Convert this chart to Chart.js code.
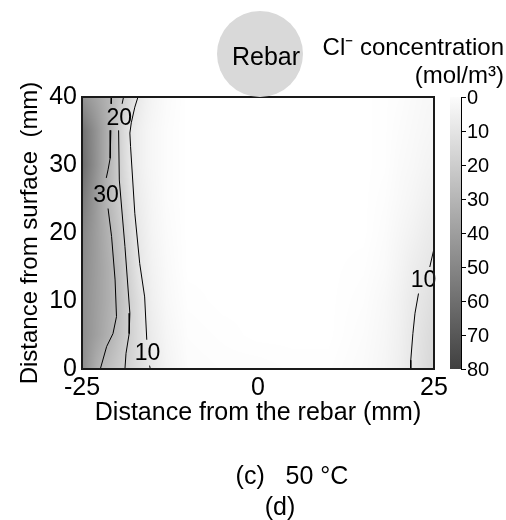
<!DOCTYPE html>
<html>
<head>
<meta charset="utf-8">
<script src="https://cdn.jsdelivr.net/npm/chart.js@4.4.1/dist/chart.umd.min.js"></script>
<style>
  html, body { margin: 0; padding: 0; background: #fff; }
  #wrap { width: 506px; height: 520px; }
</style>
</head>
<body>
<div id="wrap"><canvas id="map" width="506" height="520"></canvas></div>
<script>
// grid of Cl- concentration (mol/m3)
const gridX = [-25, -23, -22, -21, -20, -19, -18, -17, -16, -15, -13, -10, -5, 0, 5, 10, 15, 18, 20, 22, 24, 25];
const gridY = [0, 5, 10, 15, 20, 25, 30, 35, 40];

const concY0  = [48, 34, 29, 26, 23, 20.3, 17.5, 14.7, 11.9, 9.2, 5, 1.5, 1, 1, 0.5, 0.5, 2, 4, 6.5, 10.3, 15, 17];
const concY5  = [48, 40, 36, 32, 27.4, 23, 18.8, 14.8, 10.8, 8, 4, 1, 0.5, 0, 0, 0, 1.5, 3.5, 6, 10, 14, 16];
const concY10 = [48, 40.5, 36.8, 33, 28.9, 23.7, 18.6, 14.1, 9.6, 6.5, 3, 0.5, 0, 0, 0, 0, 1, 3, 5.5, 9, 12.2, 14];
const concY15 = [49, 40.9, 36.9, 32.8, 28.2, 22.4, 16.7, 11.1, 8, 5.5, 2.5, 0, 0, 0, 0, 0, 0.5, 2, 4.5, 7.5, 9.8, 11];
const concY20 = [51, 41, 36, 31, 25.8, 20.5, 14.4, 9.5, 7, 4.5, 2, 0, 0, 0, 0, 0, 0, 1.5, 3.5, 5.5, 8, 9];
const concY25 = [56, 42, 34.9, 28.4, 23.2, 17.6, 11.8, 8, 6, 4, 1.5, 0, 0, 0, 0, 0, 0, 1, 2.5, 4, 6, 7];
const concY30 = [62, 46, 38, 30, 22.3, 15.6, 9.5, 7, 5, 3.5, 1.5, 0, 0, 0, 0, 0, 0, 0.5, 2, 3, 4.5, 5];
const concY35 = [60, 45.4, 38, 30.7, 21.8, 15, 9.5, 7, 5, 3.5, 1.5, 0, 0, 0, 0, 0, 0, 0.5, 1.5, 2.5, 3.5, 4];
const concY40 = [45, 37.9, 34.3, 30.7, 25.3, 19.5, 14.2, 9.3, 6.5, 4.5, 2, 0, 0, 0, 0, 0, 0, 0.5, 1, 2, 3, 3];
const concRows = [concY0, concY5, concY10, concY15, concY20, concY25, concY30, concY35, concY40];

// contour lines (null = gap where the label sits)
const c30X = [-20.8, -20.85, null, -20.9, -21.0, -21.3, -21.55, null, -21.3, -20.8, -20.3, -20.1, -20.6, -21.5, -22.4];
const c30Y = [40, 39, null, 35.1, 31, 29.3, 28.1, null, 23.6, 19.5, 13.1, 7.7, 5.2, 3.3, 0];
const c20X = [-19.1, -19.3, null, -19.8, -19.7, -18.9, -18.2, -18.3, -18.75, -18.9];
const c20Y = [40, 39, null, 35.1, 27.8, 18, 8.2, 5.2, 2.3, 0];
const c10LX = [-17.05, -17.5, -18.0, -18.2, -18.1, -17.5, -16.8, -16.1, -15.8, null, -15.4, -15.3];
const c10LY = [40, 38.5, 36.2, 34.7, 32.7, 22.9, 15.5, 10.6, 4.3, null, 0.5, 0];
const c10RX = [25, 24.4, null, 22.8, 22.3, 22.0, 21.7, 21.7];
const c10RY = [17.7, 15, null, 11.1, 8.2, 5.2, 1.3, 0];

const labelText = ['20', '30', '10', '10'];
const labelX = [-19.7, -21.6, -15.7, 23.5];
const labelY = [37.0, 25.7, 2.4, 13.1];

const xTicks = [-25, 0, 25];
const yTicks = [0, 10, 20, 30, 40];
const cbTicks = [0, 10, 20, 30, 40, 50, 60, 70, 80];
const cbMax = 80;

const FONT = "'Liberation Sans', Arial, sans-serif";

function pts(xs, ys) {
  return xs.map((x, i) => x === null ? { x: NaN, y: null } : { x: x, y: ys[i] });
}

function grayOf(v) {
  const t = Math.max(0, Math.min(cbMax, v)) / cbMax;
  return Math.round(255 - t * 191);
}

function findIdx(arr, v) {
  for (let i = 0; i < arr.length - 2; i++) {
    if (v < arr[i + 1]) return i;
  }
  return arr.length - 2;
}

function sample(x, y) {
  const i = findIdx(gridX, x), j = findIdx(gridY, y);
  const tx = Math.max(0, Math.min(1, (x - gridX[i]) / (gridX[i + 1] - gridX[i])));
  const ty = Math.max(0, Math.min(1, (y - gridY[j]) / (gridY[j + 1] - gridY[j])));
  const a = concRows[j][i], b = concRows[j][i + 1];
  const c = concRows[j + 1][i], d = concRows[j + 1][i + 1];
  return (a * (1 - tx) + b * tx) * (1 - ty) + (c * (1 - tx) + d * tx) * ty;
}

const heatPlugin = {
  id: 'heat',
  beforeDatasetsDraw(chart) {
    const { ctx, chartArea: a, scales } = chart;
    const w = Math.round(a.right - a.left), h = Math.round(a.bottom - a.top);
    const off = document.createElement('canvas');
    off.width = w; off.height = h;
    const octx = off.getContext('2d');
    const img = octx.createImageData(w, h);
    for (let py = 0; py < h; py++) {
      const yv = scales.y.getValueForPixel(a.top + py + 0.5);
      for (let px = 0; px < w; px++) {
        const xv = scales.x.getValueForPixel(a.left + px + 0.5);
        const g = grayOf(sample(xv, yv));
        const k = (py * w + px) * 4;
        img.data[k] = g; img.data[k + 1] = g; img.data[k + 2] = g; img.data[k + 3] = 255;
      }
    }
    octx.putImageData(img, 0, 0);
    ctx.drawImage(off, a.left, a.top);
  },
  afterDatasetsDraw(chart) {
    const { ctx, chartArea: a, scales } = chart;
    // contour labels
    ctx.save();
    ctx.fillStyle = '#000';
    ctx.font = '23px ' + FONT;
    ctx.textAlign = 'center';
    ctx.textBaseline = 'middle';
    labelText.forEach((t, i) => {
      ctx.fillText(t, scales.x.getPixelForValue(labelX[i]), scales.y.getPixelForValue(labelY[i]) + 1);
    });
    // frame
    ctx.strokeStyle = '#1a1a1a';
    ctx.lineWidth = 2;
    ctx.strokeRect(a.left, a.top, a.right - a.left, a.bottom - a.top);
    ctx.restore();
  },
  afterDraw(chart) {
    const { ctx, scales } = chart;
    const cb = scales.cb;
    ctx.save();
    // colour bar
    const x0 = 450, x1 = 461;
    const top = cb.getPixelForValue(0), bot = cb.getPixelForValue(cbMax);
    const grad = ctx.createLinearGradient(0, top, 0, bot);
    grad.addColorStop(0, 'rgb(252,252,252)');
    grad.addColorStop(1, 'rgb(64,64,64)');
    ctx.fillStyle = grad;
    ctx.fillRect(x0, top, x1 - x0, bot - top);
    ctx.strokeStyle = '#000';
    ctx.lineWidth = 1;
    ctx.beginPath();
    ctx.moveTo(x1 + 0.5, top); ctx.lineTo(x1 + 0.5, bot);
    cbTicks.forEach(v => {
      const y = Math.round(cb.getPixelForValue(v)) + 0.5;
      ctx.moveTo(x1, y); ctx.lineTo(x1 + 5, y);
    });
    ctx.stroke();
    ctx.fillStyle = '#000';
    ctx.font = '20px ' + FONT;
    ctx.textAlign = 'left';
    ctx.textBaseline = 'middle';
    cbTicks.forEach(v => ctx.fillText(String(v), x1 + 6, cb.getPixelForValue(v) + 1));

    // rebar circle
    ctx.fillStyle = '#d9d9d9';
    ctx.beginPath();
    ctx.arc(260, 54, 43, 0, Math.PI * 2);
    ctx.fill();
    ctx.fillStyle = '#000';
    ctx.font = '25px ' + FONT;
    ctx.textAlign = 'center';
    ctx.fillText('Rebar', 266, 58);

    // colour bar title
    ctx.font = '24px ' + FONT;
    ctx.textAlign = 'right';
    ctx.fillText('Cl\u207B concentration', 504, 48);
    ctx.fillText('(mol/m\u00B3)', 504, 76);

    // panel captions
    ctx.font = '25px ' + FONT;
    ctx.textAlign = 'center';
    ctx.fillText('(c)   50 \u00B0C', 292, 477);
    ctx.fillText('(d)', 280, 508);
    ctx.restore();
  }
};

const lineStyle = { borderColor: '#000', borderWidth: 1, pointRadius: 0, tension: 0, spanGaps: false, fill: false };

new Chart(document.getElementById('map'), {
  type: 'line',
  data: {
    datasets: [
      Object.assign({ label: '30', data: pts(c30X, c30Y) }, lineStyle),
      Object.assign({ label: '20', data: pts(c20X, c20Y) }, lineStyle),
      Object.assign({ label: '10', data: pts(c10LX, c10LY) }, lineStyle),
      Object.assign({ label: '10r', data: pts(c10RX, c10RY) }, lineStyle)
    ]
  },
  options: {
    responsive: false,
    animation: false,
    events: [],
    layout: { padding: { left: 0, right: 72, top: 97, bottom: 91 } },
    plugins: { legend: { display: false }, tooltip: { enabled: false } },
    scales: {
      x: {
        type: 'linear', min: -25, max: 25,
        afterBuildTicks: s => { s.ticks = xTicks.map(v => ({ value: v })); },
        afterFit: s => { s.height = 60; },
        grid: { display: false, drawTicks: false },
        border: { display: false },
        ticks: { color: '#000', padding: 4, maxRotation: 0, font: { family: FONT, size: 25 } },
        title: { display: true, text: 'Distance from the rebar (mm)', color: '#000',
                 padding: { top: 0, bottom: 1 }, font: { family: FONT, size: 25 } }
      },
      y: {
        type: 'linear', min: 0, max: 40,
        afterBuildTicks: s => { s.ticks = yTicks.map(v => ({ value: v })); },
        afterFit: s => { s.width = 82; },
        grid: { display: false, drawTicks: false },
        border: { display: false },
        ticks: { color: '#000', padding: 5, font: { family: FONT, size: 25 } },
        title: { display: true, text: 'Distance from surface  (mm)', color: '#000',
                 padding: { top: 16, bottom: 0 }, font: { family: FONT, size: 24 } }
      },
      cb: {
        type: 'linear', position: 'right', min: 0, max: cbMax, reverse: true,
        display: false
      }
    }
  },
  plugins: [heatPlugin]
});
</script>
</body>
</html>
